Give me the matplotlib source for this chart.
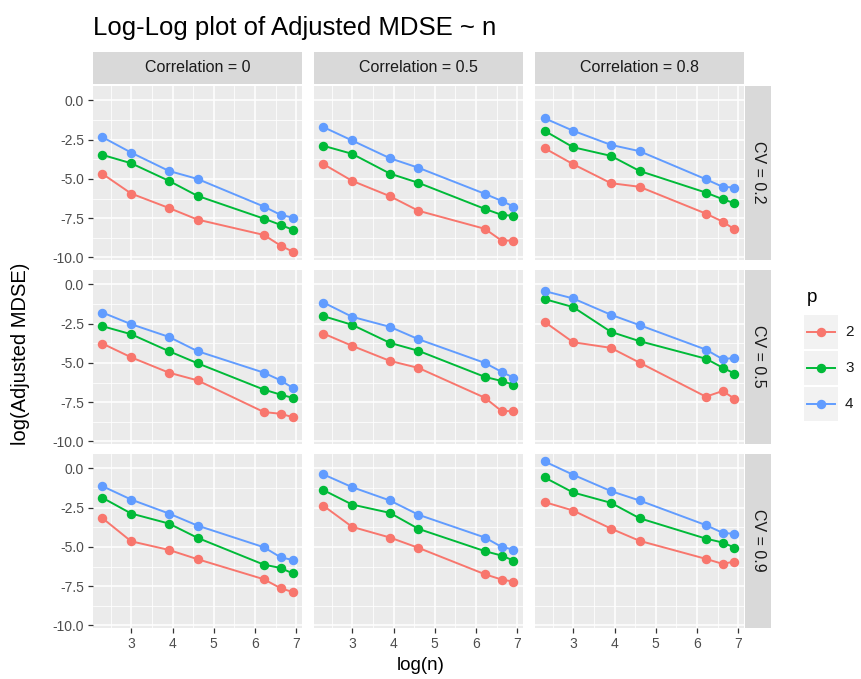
import numpy as np
import matplotlib
matplotlib.use("Agg")
import matplotlib.pyplot as plt
from matplotlib.ticker import FixedLocator

plt.rcParams['font.family'] = ['Liberation Sans', 'DejaVu Sans']

n_values = [10, 20, 50, 100, 500, 750, 1000]
correlations = ["0", "0.5", "0.8"]
cvs = ["0.2", "0.5", "0.9"]
p_levels = ["2", "3", "4"]
colors = ["#F8766D", "#00BA38", "#619CFF"]

# log(Adjusted MDSE), indexed [CV][Correlation][p]
cv02_corr0_p2 = [-4.68, -5.93, -6.85, -7.59, -8.57, -9.25, -9.63]
cv02_corr0_p3 = [-3.47, -4.00, -5.12, -6.08, -7.53, -7.93, -8.23]
cv02_corr0_p4 = [-2.34, -3.32, -4.49, -5.00, -6.76, -7.29, -7.46]
cv02_corr05_p2 = [-4.06, -5.12, -6.10, -7.03, -8.18, -8.93, -8.93]
cv02_corr05_p3 = [-2.89, -3.40, -4.66, -5.25, -6.91, -7.29, -7.35]
cv02_corr05_p4 = [-1.70, -2.55, -3.68, -4.29, -5.95, -6.40, -6.76]
cv02_corr08_p2 = [-3.04, -4.06, -5.27, -5.50, -7.21, -7.72, -8.21]
cv02_corr08_p3 = [-1.93, -2.98, -3.53, -4.49, -5.87, -6.29, -6.55]
cv02_corr08_p4 = [-1.13, -1.93, -2.83, -3.23, -5.02, -5.50, -5.55]

cv05_corr0_p2 = [-3.77, -4.64, -5.62, -6.11, -8.13, -8.24, -8.45]
cv05_corr0_p3 = [-2.66, -3.17, -4.25, -5.02, -6.70, -7.02, -7.22]
cv05_corr0_p4 = [-1.79, -2.53, -3.34, -4.25, -5.62, -6.11, -6.58]
cv05_corr05_p2 = [-3.13, -3.91, -4.87, -5.32, -7.22, -8.07, -8.07]
cv05_corr05_p3 = [-2.02, -2.57, -3.72, -4.23, -5.89, -6.15, -6.39]
cv05_corr05_p4 = [-1.15, -2.06, -2.70, -3.49, -5.00, -5.57, -5.94]
cv05_corr08_p2 = [-2.38, -3.68, -4.04, -4.98, -7.15, -6.79, -7.28]
cv05_corr08_p3 = [-0.93, -1.44, -3.02, -3.61, -4.73, -5.30, -5.68]
cv05_corr08_p4 = [-0.42, -0.89, -1.93, -2.59, -4.15, -4.76, -4.68]

cv09_corr0_p2 = [-3.17, -4.64, -5.19, -5.78, -7.06, -7.63, -7.87]
cv09_corr0_p3 = [-1.87, -2.87, -3.51, -4.42, -6.13, -6.34, -6.68]
cv09_corr0_p4 = [-1.13, -1.98, -2.87, -3.64, -5.02, -5.66, -5.83]
cv09_corr05_p2 = [-2.38, -3.72, -4.40, -5.06, -6.74, -7.08, -7.21]
cv09_corr05_p3 = [-1.38, -2.30, -2.83, -3.85, -5.27, -5.55, -5.87]
cv09_corr05_p4 = [-0.38, -1.19, -2.04, -2.95, -4.40, -5.00, -5.17]
cv09_corr08_p2 = [-2.14, -2.68, -3.83, -4.61, -5.76, -6.08, -5.93]
cv09_corr08_p3 = [-0.57, -1.53, -2.19, -3.17, -4.47, -4.72, -5.04]
cv09_corr08_p4 = [0.45, -0.40, -1.44, -2.04, -3.61, -4.10, -4.17]

data = [
    [[cv02_corr0_p2, cv02_corr0_p3, cv02_corr0_p4],
     [cv02_corr05_p2, cv02_corr05_p3, cv02_corr05_p4],
     [cv02_corr08_p2, cv02_corr08_p3, cv02_corr08_p4]],
    [[cv05_corr0_p2, cv05_corr0_p3, cv05_corr0_p4],
     [cv05_corr05_p2, cv05_corr05_p3, cv05_corr05_p4],
     [cv05_corr08_p2, cv05_corr08_p3, cv05_corr08_p4]],
    [[cv09_corr0_p2, cv09_corr0_p3, cv09_corr0_p4],
     [cv09_corr05_p2, cv09_corr05_p3, cv09_corr05_p4],
     [cv09_corr08_p2, cv09_corr08_p3, cv09_corr08_p4]],
]

x = np.log(np.array(n_values, dtype=float))
allv = np.array(data).ravel()
ymin, ymax = allv.min(), allv.max()
yr = ymax - ymin
ylim = (ymin - 0.05 * yr, ymax + 0.05 * yr)
xr = x.max() - x.min()
xlim = (x.min() - 0.05 * xr, x.max() + 0.05 * xr)

W, H = 862, 679
fig = plt.figure(figsize=(W / 100, H / 100), dpi=100)

col_left = [93, 314, 535]
pw = 209
row_top = [85.5, 269.5, 453.5]
ph = 174

def fx(px):
    return px / W

def fy(py):
    return 1 - py / H

grid_col = "white"
for r in range(3):
    for c in range(3):
        ax = fig.add_axes([fx(col_left[c]), fy(row_top[r] + ph), pw / W, ph / H])
        ax.set_facecolor("#EBEBEB")
        for s in ax.spines.values():
            s.set_visible(False)
        ax.set_xlim(xlim)
        ax.set_ylim(ylim)
        ax.xaxis.set_major_locator(FixedLocator([3, 4, 5, 6, 7]))
        ax.xaxis.set_minor_locator(FixedLocator([2.5, 3.5, 4.5, 5.5, 6.5]))
        ax.yaxis.set_major_locator(FixedLocator([0, -2.5, -5, -7.5, -10]))
        ax.yaxis.set_minor_locator(FixedLocator([1.25, -1.25, -3.75, -6.25, -8.75]))
        ax.grid(which="major", color=grid_col, linewidth=1.1)
        ax.grid(which="minor", color=grid_col, linewidth=0.55)
        ax.set_axisbelow(True)
        ax.tick_params(which="minor", length=0)
        ax.tick_params(which="major", length=3.5, width=0.9, color="#333333",
                       labelsize=10, labelcolor="#4D4D4D", pad=3)
        if c == 0:
            ax.set_yticklabels(["0.0", "-2.5", "-5.0", "-7.5", "-10.0"])
        else:
            ax.tick_params(axis="y", left=False, labelleft=False)
        if r == 2:
            ax.set_xticklabels(["3", "4", "5", "6", "7"])
        else:
            ax.tick_params(axis="x", bottom=False, labelbottom=False)
        for k in range(3):
            ax.plot(x, data[r][c][k], color=colors[k], linewidth=1.4,
                    marker="o", markersize=5.8, label=p_levels[k],
                    solid_capstyle="butt")
        # top strips
        if r == 0:
            sax = fig.add_axes([fx(col_left[c]), fy(84), pw / W, 32 / H])
            sax.set_facecolor("#D9D9D9")
            sax.set_xticks([]); sax.set_yticks([])
            for s in sax.spines.values():
                s.set_visible(False)
            sax.text(0.5, 0.5, f"Correlation = {correlations[c]}", ha="center",
                     va="center", fontsize=11.5, color="#1A1A1A", transform=sax.transAxes)
        if c == 2:
            sax = fig.add_axes([fx(745.5), fy(row_top[r] + ph), 25 / W, ph / H])
            sax.set_facecolor("#D9D9D9")
            sax.set_xticks([]); sax.set_yticks([])
            for s in sax.spines.values():
                s.set_visible(False)
            sax.text(0.5, 0.5, f"CV = {cvs[r]}", ha="center", va="center",
                     rotation=-90, fontsize=11.5, color="#1A1A1A", transform=sax.transAxes)

fig.text(fx(93), fy(28), "Log-Log plot of Adjusted MDSE ~ n", fontsize=18.5,
         ha="left", va="center", color="black")
fig.text(fx(421), fy(665), "log(n)", fontsize=13.5, ha="center", va="center")
fig.text(fx(21), fy(354), "log(Adjusted MDSE)", fontsize=14.5, ha="center",
         va="center", rotation=90)

# legend
fig.text(fx(807), fy(298), "p", fontsize=13.5, ha="left", va="center")
for k in range(3):
    yc = 332 + 36 * k
    lax = fig.add_axes([fx(804), fy(yc + 17), 34 / W, 34 / H])
    lax.set_facecolor("#F2F2F2")
    lax.set_xlim(0, 1); lax.set_ylim(0, 1)
    lax.set_xticks([]); lax.set_yticks([])
    for s in lax.spines.values():
        s.set_visible(False)
    lax.plot([0.1, 0.9], [0.5, 0.5], color=colors[k], linewidth=1.4)
    lax.plot([0.5], [0.5], marker="o", color=colors[k], markersize=5.8)
    fig.text(fx(845), fy(yc), p_levels[k], fontsize=11, ha="left", va="center",
             color="#1A1A1A")

fig.savefig("out.png", dpi=100)
